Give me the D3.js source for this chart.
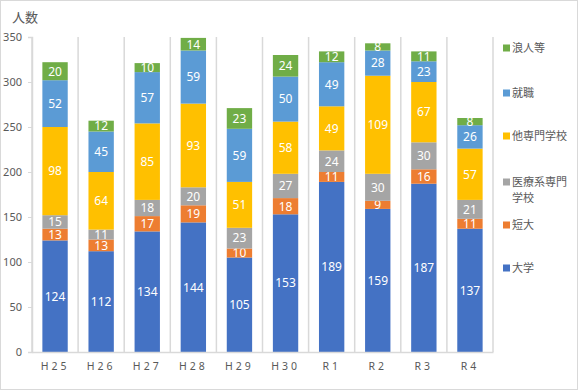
<!DOCTYPE html>
<html><head><meta charset="utf-8">
<script src="https://cdn.jsdelivr.net/npm/d3@7"></script>
<style>
body{margin:0;background:#fff;}
svg{display:block;font-family:"Noto Sans CJK JP","Noto Sans",sans-serif;}
</style></head><body>
<svg id="chart" width="578" height="390"></svg>
<script>
const categories = ["H25","H26","H27","H28","H29","H30","R1","R2","R3","R4"];
const seriesNames = ["大学","短大","医療系専門学校","他専門学校","就職","浪人等"];
const daigaku = [124,112,134,144,105,153,189,159,187,137];
const tandai = [13,13,17,19,10,18,11,9,16,11];
const iryou = [15,11,18,20,23,27,24,30,30,21];
const senmon = [98,64,85,93,51,58,49,109,67,57];
const shushoku = [52,45,57,59,59,50,49,28,23,26];
const ronin = [20,12,10,14,23,24,12,8,11,8];
const yTicks = [0,50,100,150,200,250,300,350];
const colors = ["#4472C4","#ED7D31","#A5A5A5","#FFC000","#5B9BD5","#70AD47"];
const legendLines = [["大学"],["短大"],["医療系専門","学校"],["他専門学校"],["就職"],["浪人等"]];

const values = [daigaku,tandai,iryou,senmon,shushoku,ronin];
const rows = categories.map((c,i)=>{const r={cat:c}; seriesNames.forEach((s,j)=>r[s]=values[j][i]); return r;});
const stacked = d3.stack().keys(seriesNames)(rows);

const svg = d3.select("#chart");
svg.append("rect").attr("x",0.5).attr("y",0.5).attr("width",577).attr("height",389)
  .attr("fill","#fff").attr("stroke","#d9d9d9");

const pL=32, pR=493, pT=37, pB=352;
const x = d3.scaleBand().domain(categories).range([pL,pR]).paddingInner(0.45).paddingOuter(0.225);
const y = d3.scaleLinear().domain([0,350]).range([pB,pT]);

// category separators
const step = (pR-pL)/categories.length;
const seps = d3.range(0,categories.length+1).map(i=>pL+i*step);
svg.append("g").selectAll("line").data(seps).join("line")
  .attr("x1",d=>d).attr("x2",d=>d).attr("y1",pT).attr("y2",pB)
  .attr("stroke","#d9d9d9").attr("stroke-width",1.5);

// bars
const g = svg.append("g");
stacked.forEach((s,j)=>{
  g.append("g").selectAll("rect").data(s).join("rect")
    .attr("x",d=>x(d.data.cat)).attr("width",x.bandwidth())
    .attr("y",d=>y(d[1])).attr("height",d=>y(d[0])-y(d[1]))
    .attr("fill",colors[j]);
  g.append("g").selectAll("text").data(s).join("text")
    .attr("x",d=>x(d.data.cat)+x.bandwidth()/2)
    .attr("y",d=>(y(d[0])+y(d[1]))/2)
    .attr("dy","0.36em").attr("text-anchor","middle")
    .attr("fill","#fff").attr("font-size",12).attr("font-family","'Noto Sans',sans-serif")
    .text(d=>d[1]-d[0]);
});

// y axis
const yAxis = d3.axisLeft(y).tickValues(yTicks).tickSize(4).tickPadding(6);
const ya = svg.append("g").attr("transform",`translate(${pL},0)`).call(yAxis);
ya.select(".domain").attr("stroke","#d9d9d9").attr("stroke-width",1.5);
ya.selectAll(".tick line").attr("stroke","#d9d9d9");
ya.selectAll(".tick text").attr("fill","#595959").attr("font-size",11).attr("font-family","'Noto Sans',sans-serif");

// x axis
const xAxis = d3.axisBottom(x).tickSize(0).tickPadding(11);
const xa = svg.append("g").attr("transform",`translate(0,${pB})`).call(xAxis);
xa.select(".domain").attr("stroke","#d9d9d9").attr("stroke-width",1.5);
xa.selectAll(".tick text").attr("fill","#595959").attr("font-size",10.5)
  .attr("letter-spacing","3px").attr("font-family","'Noto Sans',sans-serif");

// y title
svg.append("text").attr("x",12).attr("y",22).attr("fill","#595959").attr("font-size",13).text("人数");

// legend
const legendY = [268,225,182,136,93,48];
const lg = svg.append("g");
seriesNames.forEach((s,j)=>{
  const ly = legendY[j];
  lg.append("rect").attr("x",503).attr("y",ly-3.5).attr("width",7).attr("height",7).attr("fill",colors[j]);
  legendLines[j].forEach((t,k)=>{
    lg.append("text").attr("x",512).attr("y",ly+k*16).attr("dy","0.36em")
      .attr("fill","#595959").attr("font-size",11).text(t);
  });
});
</script></body></html>
